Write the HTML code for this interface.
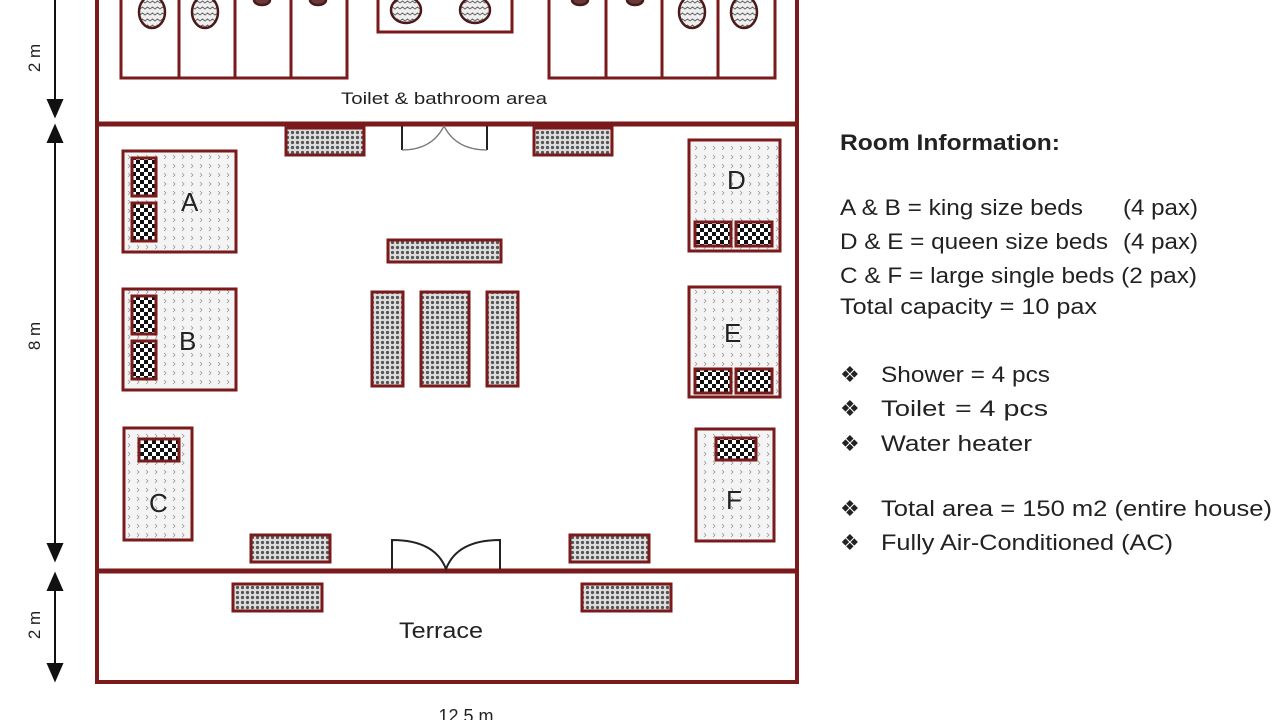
<!DOCTYPE html>
<html><head><meta charset="utf-8"><style>
html,body{margin:0;padding:0;background:#fff;width:1280px;height:720px;overflow:hidden}
svg{display:block}
text{font-family:"Liberation Sans",sans-serif;fill:#222}
</style></head><body>
<svg width="1280" height="720" viewBox="0 0 1280 720">
<defs>
<pattern id="dots" width="5" height="5" patternUnits="userSpaceOnUse">
<rect width="5" height="5" fill="#ddd"/><circle cx="2.5" cy="2.5" r="1.6" fill="#555"/></pattern>
<pattern id="chk" width="8" height="8" patternUnits="userSpaceOnUse">
<rect width="8" height="8" fill="#fff"/><rect width="4" height="4" fill="#111"/><rect x="4" y="4" width="4" height="4" fill="#111"/></pattern>
<pattern id="bed" width="9" height="9" patternUnits="userSpaceOnUse">
<rect width="9" height="9" fill="#f4f4f4"/><path d="M2 2 l2 2 l-2 2" stroke="#999" fill="none" stroke-width="0.8"/></pattern>
<pattern id="wave" width="10" height="6" patternUnits="userSpaceOnUse">
<rect width="10" height="6" fill="#eee"/><path d="M0 3 l2.5 -2 l2.5 2 l2.5 -2 l2.5 2" stroke="#666" fill="none" stroke-width="1"/></pattern>
</defs>
<g stroke="#7a1a1a" fill="none">
<line x1="97" y1="0" x2="97" y2="684" stroke-width="4"/>
<line x1="797" y1="0" x2="797" y2="684" stroke-width="4"/>
<line x1="95" y1="124" x2="799" y2="124" stroke-width="5"/>
<line x1="95" y1="571" x2="799" y2="571" stroke-width="5"/>
<line x1="95" y1="682" x2="799" y2="682" stroke-width="4"/>
<g stroke-width="3">
<rect x="121" y="-5" width="226" height="83"/>
<line x1="179" y1="0" x2="179" y2="78"/><line x1="235" y1="0" x2="235" y2="78"/><line x1="291" y1="0" x2="291" y2="78"/>
<rect x="549" y="-5" width="226" height="83"/>
<line x1="606" y1="0" x2="606" y2="78"/><line x1="662" y1="0" x2="662" y2="78"/><line x1="718" y1="0" x2="718" y2="78"/>
<rect x="378" y="-5" width="134" height="37"/>
</g>
</g>
<g stroke="#4a1a1a" stroke-width="2.5" fill="url(#wave)">
<ellipse cx="152" cy="12" rx="13" ry="16"/><ellipse cx="205" cy="12" rx="13" ry="16"/>
<ellipse cx="262" cy="0" rx="8" ry="5" fill="#6a3a3a"/><ellipse cx="318" cy="0" rx="8" ry="5" fill="#6a3a3a"/>
<ellipse cx="406" cy="10" rx="15" ry="13"/><ellipse cx="475" cy="10" rx="15" ry="13"/>
<ellipse cx="580" cy="0" rx="8" ry="5" fill="#6a3a3a"/><ellipse cx="635" cy="0" rx="8" ry="5" fill="#6a3a3a"/>
<ellipse cx="692" cy="12" rx="13" ry="16"/><ellipse cx="744" cy="12" rx="13" ry="16"/>
</g>
<g fill="url(#dots)" stroke="#7a1a1a" stroke-width="3">
<rect x="286" y="128" width="78" height="27"/><rect x="534" y="128" width="78" height="27"/>
<rect x="388" y="240" width="113" height="22"/>
<rect x="372" y="292" width="31" height="94"/><rect x="421" y="292" width="48" height="94"/><rect x="487" y="292" width="31" height="94"/>
<rect x="251" y="535" width="79" height="27"/><rect x="570" y="535" width="79" height="27"/>
<rect x="233" y="584" width="89" height="27"/><rect x="582" y="584" width="89" height="27"/>
</g>
<g fill="url(#bed)" stroke="#7a1a1a" stroke-width="3">
<rect x="123" y="151" width="113" height="101"/><rect x="123" y="289" width="113" height="101"/>
<rect x="124" y="428" width="68" height="112"/>
<rect x="689" y="140" width="91" height="111"/><rect x="689" y="287" width="91" height="110"/>
<rect x="696" y="429" width="78" height="112"/>
</g>
<g fill="url(#chk)" stroke="#7a1a1a" stroke-width="3">
<rect x="132" y="158" width="24" height="38"/><rect x="132" y="203" width="24" height="38"/>
<rect x="132" y="296" width="24" height="38"/><rect x="132" y="341" width="24" height="38"/>
<rect x="139" y="439" width="40" height="22"/>
<rect x="695" y="222" width="36" height="24"/><rect x="736" y="222" width="36" height="24"/>
<rect x="695" y="369" width="36" height="24"/><rect x="736" y="369" width="36" height="24"/>
<rect x="716" y="438" width="40" height="22"/>
</g>
<g font-size="26">
<text x="181" y="211">A</text><text x="179" y="350">B</text><text x="149" y="512">C</text>
<text x="727" y="189">D</text><text x="724" y="342">E</text><text x="726" y="509">F</text>
</g>
<g stroke="#222" fill="none" stroke-width="2">
<line x1="402" y1="126" x2="402" y2="150"/><line x1="487" y1="126" x2="487" y2="150"/>
<path d="M402 150 Q432 150 444 126 Q456 150 487 150" stroke="#777" stroke-width="1.3"/>
<path d="M392 569 L392 540 Q435 540 446 569 Q457 540 500 540 L500 569"/>
</g>
<g stroke="#111" stroke-width="2" fill="#111">
<line x1="55" y1="0" x2="55" y2="105"/><path d="M48 100 L55 116 L62 100Z"/>
<line x1="55" y1="138" x2="55" y2="548"/><path d="M48 142 L55 126 L62 142Z"/><path d="M48 544 L55 560 L62 544Z"/>
<line x1="55" y1="586" x2="55" y2="670"/><path d="M48 590 L55 574 L62 590Z"/><path d="M48 664 L55 680 L62 664Z"/>
</g>
<g font-size="17">
<text transform="translate(40,58) rotate(-90)" text-anchor="middle">2 m</text>
<text transform="translate(40,336) rotate(-90)" text-anchor="middle">8 m</text>
<text transform="translate(40,625) rotate(-90)" text-anchor="middle">2 m</text>
</g>
<text x="341" y="104" font-size="17" textLength="206" lengthAdjust="spacingAndGlyphs" fill="#333">Toilet &amp; bathroom area</text>
<text x="399" y="638" font-size="22" textLength="84" lengthAdjust="spacingAndGlyphs">Terrace</text>
<text x="466" y="722" font-size="18" text-anchor="middle">12.5 m</text>
<g font-size="22">
<text x="840" y="150" font-weight="bold" textLength="220" lengthAdjust="spacingAndGlyphs">Room Information:</text>
<text x="840" y="215" textLength="243" lengthAdjust="spacingAndGlyphs">A &amp; B = king size beds</text><text x="1123" y="215" textLength="75" lengthAdjust="spacingAndGlyphs">(4 pax)</text>
<text x="840" y="249" textLength="268" lengthAdjust="spacingAndGlyphs">D &amp; E = queen size beds</text><text x="1123" y="249" textLength="75" lengthAdjust="spacingAndGlyphs">(4 pax)</text>
<text x="840" y="283" textLength="357" lengthAdjust="spacingAndGlyphs">C &amp; F = large single beds (2 pax)</text>
<text x="840" y="314" textLength="257" lengthAdjust="spacingAndGlyphs">Total capacity = 10 pax</text>
<text x="840" y="382">❖</text><text x="881" y="382" textLength="169" lengthAdjust="spacingAndGlyphs">Shower = 4 pcs</text>
<text x="840" y="416">❖</text><text x="881" y="416" textLength="64" lengthAdjust="spacingAndGlyphs">Toilet</text><text x="955" y="416" textLength="93" lengthAdjust="spacingAndGlyphs">= 4 pcs</text>
<text x="840" y="451">❖</text><text x="881" y="451" textLength="151" lengthAdjust="spacingAndGlyphs">Water heater</text>
<text x="840" y="516">❖</text><text x="881" y="516" textLength="391" lengthAdjust="spacingAndGlyphs">Total area = 150 m2 (entire house)</text>
<text x="840" y="550">❖</text><text x="881" y="550" textLength="292" lengthAdjust="spacingAndGlyphs">Fully Air-Conditioned (AC)</text>
</g>
</svg>
</body></html>
